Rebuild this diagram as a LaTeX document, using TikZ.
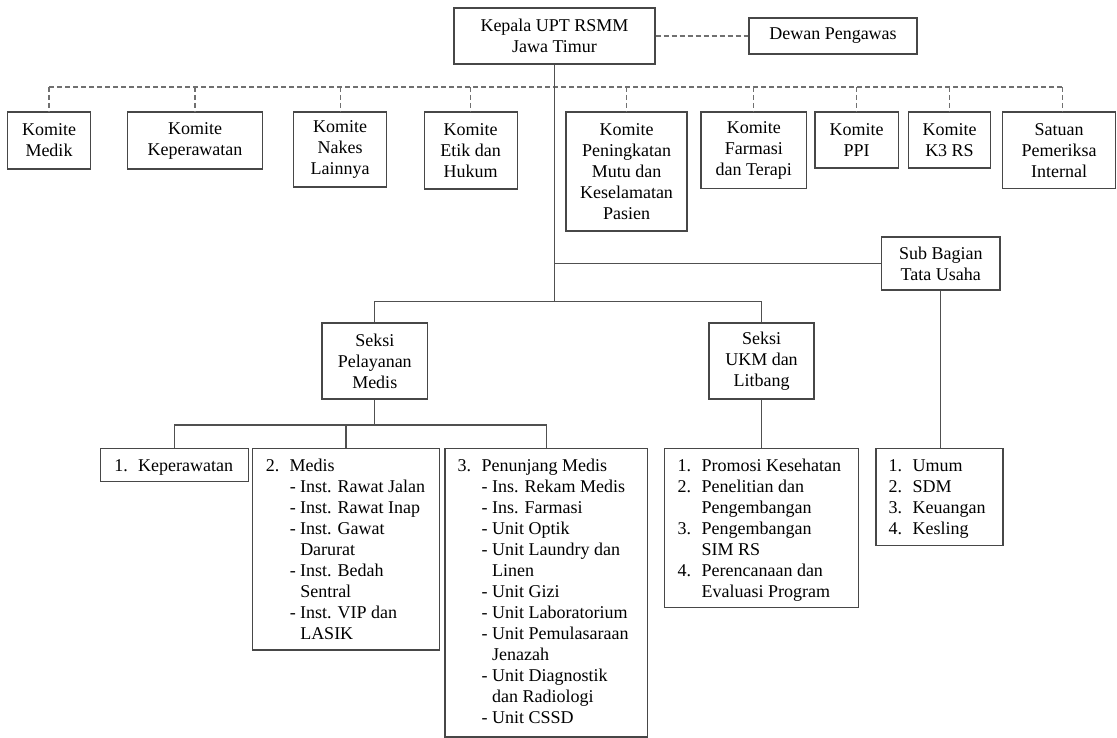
\documentclass[tikz,border=0pt]{standalone}
\usepackage{fontspec}
\setmainfont{Liberation Serif}
\definecolor{boxcol}{HTML}{474747}
\definecolor{linecol}{HTML}{505050}
\definecolor{dashcol}{HTML}{707070}
\newcommand\boxfont{\fontsize{18}{21}\selectfont}
\newcommand\numit[1]{\makebox[24pt][l]{#1}}
\newcommand\indA{\hspace*{24pt}}
\newcommand\indB{\hspace*{34.5pt}}
\tikzset{
  box/.style={draw=boxcol, line width=1.3pt, inner sep=0pt, align=center, font=\boxfont},
  lbox/.style={draw=boxcol, line width=1.3pt, inner sep=0pt},
  ltext/.style={inner sep=0pt, anchor=north west, font=\boxfont},
  conn/.style={draw=linecol, line width=1.2pt},
  dconn/.style={draw=dashcol, line width=1.2pt, dash pattern=on 5pt off 3pt},
}
\begin{document}
\begin{tikzpicture}[x=1pt,y=-1pt]
\useasboundingbox (0,0) rectangle (1117,738);
% top
\node[box, minimum width=201pt, minimum height=56pt] (kepala) at (554.5,36) {Kepala UPT RSMM\\Jawa Timur};
\node[box, minimum width=168pt, minimum height=36pt] (dewan) at (833,36) {Dewan Pengawas};
% komite row
\node[box, minimum width=83pt, minimum height=57pt] (medik) at (49,140.5) {Komite\\Medik};
\node[box, minimum width=135pt, minimum height=57pt] (kkep) at (195,140.5) {Komite\\Keperawatan};
\node[box, minimum width=93pt, minimum height=75pt] (nakes) at (340.2,149.5) {Komite\\Nakes\\Lainnya};
\node[box, minimum width=93pt, minimum height=77pt] (etik) at (470.7,150.5) {Komite\\Etik dan\\Hukum};
\node[box, minimum width=121pt, minimum height=119pt] (mutu) at (626.5,171.5) {Komite\\Peningkatan\\Mutu dan\\Keselamatan\\Pasien};
\node[box, minimum width=105.7pt, minimum height=76.3pt] (farmasi) at (753.8,150.15) {Komite\\Farmasi\\dan Terapi};
\node[box, minimum width=83.3pt, minimum height=56pt] (ppi) at (856.7,140) {Komite\\PPI};
\node[box, minimum width=82.4pt, minimum height=56pt] (k3) at (949.5,140) {Komite\\K3 RS};
\node[box, minimum width=112.8pt, minimum height=76.3pt] (satuan) at (1059.1,150.15) {Satuan\\Pemeriksa\\Internal};
% middle
\node[box, minimum width=118.5pt, minimum height=53pt] (subbag) at (940.75,263.5) {Sub Bagian\\Tata Usaha};
\node[box, minimum width=105.5pt, minimum height=76pt] (seksipel) at (374.75,361) {Seksi\\Pelayanan\\Medis};
\node[box, minimum width=105pt, minimum height=76pt] (seksiukm) at (761.5,361) {Seksi\\UKM dan\\Litbang};
% bottom list boxes
\node[lbox, minimum width=147.6pt, minimum height=33.4pt] (kep) at (174.5,465) {};
\node[lbox, minimum width=186.6pt, minimum height=201.7pt] (medis) at (346,549.15) {};
\node[lbox, minimum width=202.3pt, minimum height=288.7pt] (penunjang) at (546.15,592.65) {};
\node[lbox, minimum width=194pt, minimum height=159pt] (promosi) at (761.5,527.8) {};
\node[lbox, minimum width=127pt, minimum height=97pt] (umum) at (939.5,496.8) {};
\node[ltext] (kept) at ([shift={(14,8.7)}]kep.north west) {\begin{tabular}{@{}l@{}}\numit{1.}Keperawatan\end{tabular}};
\node[ltext] (medist) at ([shift={(13.5,8.7)}]medis.north west) {\begin{tabular}{@{}l@{}}
\numit{2.}Medis\\
\indA- Inst. Rawat Jalan\\
\indA- Inst. Rawat Inap\\
\indA- Inst. Gawat\\
\indB Darurat\\
\indA- Inst. Bedah\\
\indB Sentral\\
\indA- Inst. VIP dan\\
\indB LASIK
\end{tabular}};
\node[ltext] (penunjangt) at ([shift={(13,8.7)}]penunjang.north west) {\begin{tabular}{@{}l@{}}
\numit{3.}Penunjang Medis\\
\indA- Ins. Rekam Medis\\
\indA- Ins. Farmasi\\
\indA- Unit Optik\\
\indA- Unit Laundry dan\\
\indB Linen\\
\indA- Unit Gizi\\
\indA- Unit Laboratorium\\
\indA- Unit Pemulasaraan\\
\indB Jenazah\\
\indA- Unit Diagnostik\\
\indB dan Radiologi\\
\indA- Unit CSSD
\end{tabular}};
\node[ltext] (promosit) at ([shift={(13.5,8.7)}]promosi.north west) {\begin{tabular}{@{}l@{}}
\numit{1.}Promosi Kesehatan\\
\numit{2.}Penelitian dan\\
\indA Pengembangan\\
\numit{3.}Pengembangan\\
\indA SIM RS\\
\numit{4.}Perencanaan dan\\
\indA Evaluasi Program
\end{tabular}};
\node[ltext] (umumt) at ([shift={(13,8.7)}]umum.north west) {\begin{tabular}{@{}l@{}}
\numit{1.}Umum\\
\numit{2.}SDM\\
\numit{3.}Keuangan\\
\numit{4.}Kesling
\end{tabular}};
% dashed connectors
\coordinate (dashL) at (49,87);
\coordinate (dashR) at (1062.7,87);
\draw[dconn] (kepala.east) -- (dewan.west);
\draw[dconn] (dashL) -- (dashR);
\foreach \n in {medik,kkep,nakes,etik,mutu,farmasi,ppi,k3}
  \draw[dconn] (\n.north |- dashL) -- (\n.north);
\draw[dconn] (dashR) -- (dashR |- satuan.north);
% solid connectors
\coordinate (j1) at (554.5,301.7);
\coordinate (j2) at (374.75,425);
\draw[conn] (kepala.south) -- (j1);
\draw[conn] (kepala.south |- subbag.west) -- (subbag.west);
\draw[conn] (seksipel.north) |- (j1) -| (seksiukm.north);
\draw[conn] (seksipel.south) -- (j2);
\draw[conn] (kep.north) |- (penunjang.north |- j2) -- (penunjang.north);
\draw[conn] (medis.north |- j2) -- (medis.north);
\draw[conn] (seksiukm.south) -- (promosi.north);
\draw[conn] (subbag.south) -- (subbag.south |- umum.north);
\end{tikzpicture}
\end{document}
